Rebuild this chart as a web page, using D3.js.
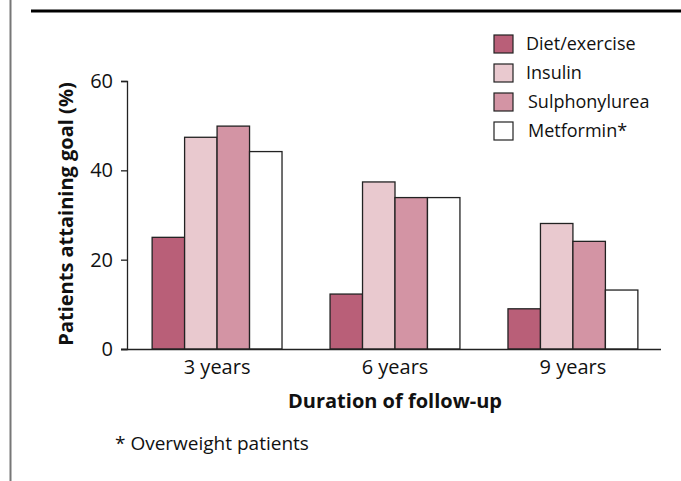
<!DOCTYPE html>
<html>
<head>
<meta charset="utf-8">
<script src="https://cdn.jsdelivr.net/npm/d3@7/dist/d3.min.js"></script>
<style>
  html, body { margin: 0; padding: 0; background: #fff; }
  svg { display: block; font-family: 'Open Sans', 'Noto Sans', sans-serif; }
</style>
</head>
<body>
<div id="chart"></div>
<script>
// chart data
const durations = ['3 years', '6 years', '9 years']
const treatments = ['Diet/exercise', 'Insulin', 'Sulphonylurea', 'Metformin*']
const dietValues = [25.0, 12.3, 9.0]
const insulinValues = [47.4, 37.4, 28.1]
const sulphValues = [49.9, 33.9, 24.1]
const metforminValues = [44.2, 33.9, 13.2]
const yTicks = [0, 20, 40, 60]
const colors = ['#b95f78', '#e9c9cf', '#d394a4', '#ffffff']

const seriesValues = [dietValues, insulinValues, sulphValues, metforminValues]

const width = 681, height = 481
const svg = d3.select('#chart').append('svg').attr('width', width).attr('height', height)

// frame decorations: grey left rule and black top rule
svg.append('line').attr('x1', 10.5).attr('x2', 10.5).attr('y1', 0).attr('y2', height)
  .attr('stroke', '#777').attr('stroke-width', 2)
svg.append('line').attr('x1', 31).attr('x2', width).attr('y1', 11).attr('y2', 11)
  .attr('stroke', '#000').attr('stroke-width', 3)

const plot = { left: 127, right: 661, top: 81, bottom: 349 }

const x0 = d3.scaleBand().domain(durations).range([plot.left + 2, plot.right]).paddingInner(0.27).paddingOuter(0.13)
const x1 = d3.scaleBand().domain(treatments).range([0, x0.bandwidth()])
const y = d3.scaleLinear().domain([0, 60]).range([plot.bottom, plot.top])

// bars
const rows = durations.map((d, i) => ({ duration: d, values: treatments.map((t, j) => ({ t, v: seriesValues[j][i], c: colors[j] })) }))
const grp = svg.append('g').selectAll('g').data(rows).join('g')
  .attr('transform', d => `translate(${x0(d.duration)},0)`)
grp.selectAll('rect').data(d => d.values).join('rect')
  .attr('x', d => x1(d.t))
  .attr('y', d => y(d.v))
  .attr('width', x1.bandwidth())
  .attr('height', d => y(0) - y(d.v))
  .attr('fill', d => d.c)
  .attr('stroke', '#222')
  .attr('stroke-width', 1.3)

// y axis
const gy = svg.append('g').attr('transform', `translate(${plot.left},0)`)
  .call(d3.axisLeft(y).tickValues(yTicks).tickSize(6).tickPadding(8))
gy.selectAll('text').attr('font-size', 20).attr('fill', '#111').attr('font-family', "'Open Sans', sans-serif")
gy.selectAll('line, path').attr('stroke', '#222').attr('stroke-width', 1.3)

// x axis line
const gx = svg.append('g').attr('transform', `translate(0,${plot.bottom})`)
  .call(d3.axisBottom(x0).tickSize(0).tickPadding(11))
gx.select('path').attr('d', `M${plot.left - 6},0.5H${plot.right}`).attr('stroke', '#222').attr('stroke-width', 1.3)
gx.selectAll('text').attr('font-size', 20).attr('fill', '#111').attr('font-family', "'Open Sans', sans-serif")

// axis titles
svg.append('text')
  .attr('transform', `translate(73,${(plot.top + plot.bottom) / 2 - 1}) rotate(-90)`)
  .attr('text-anchor', 'middle')
  .attr('font-size', 20).attr('font-weight', 'bold').attr('fill', '#111')
  .text('Patients attaining goal (%)')
svg.append('text')
  .attr('x', 395).attr('y', 408)
  .attr('text-anchor', 'middle')
  .attr('font-size', 20).attr('font-weight', 'bold').attr('fill', '#111')
  .text('Duration of follow-up')

// legend
const legend = svg.append('g').attr('transform', 'translate(494,35)')
treatments.forEach((t, i) => {
  const row = legend.append('g').attr('transform', `translate(0,${i * 29})`)
  row.append('rect').attr('width', 19).attr('height', 18)
    .attr('fill', colors[i]).attr('stroke', '#222').attr('stroke-width', 1.2)
  row.append('text').attr('x', 32 + (i >= 2 ? 2 : 0)).attr('y', 15)
    .attr('font-size', 18).attr('fill', '#111').text(t)
})

// footnote
svg.append('text').attr('x', 115).attr('y', 450)
  .attr('font-size', 19).attr('fill', '#111').text('* Overweight patients')
</script>
</body>
</html>
